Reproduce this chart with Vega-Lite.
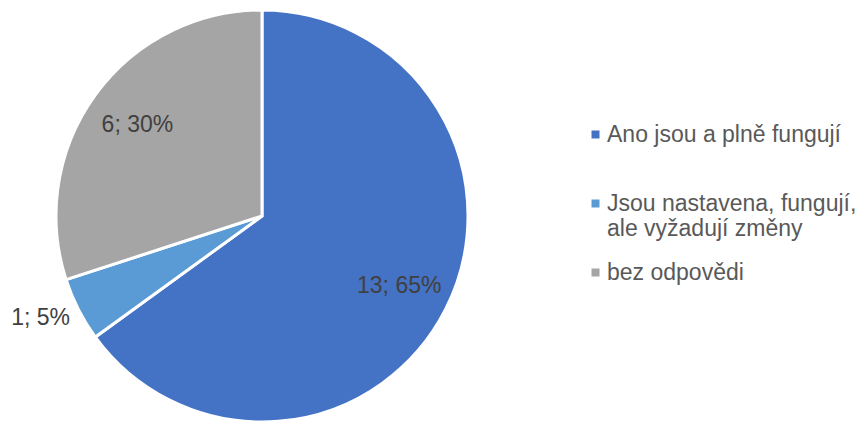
{
  "$schema": "https://vega.github.io/schema/vega-lite/v6.json",
  "width": 524,
  "height": 432,
  "autosize": {"type": "none"},
  "padding": {"left": 0, "top": 0, "right": 344, "bottom": -11},
  "background": "white",
  "config": {
    "view": {"stroke": null},
    "font": "Liberation Sans"
  },
  "data": {
    "values": [
      {"odpoved": "Ano jsou a plně fungují", "pocet": 13, "poradi": 1},
      {"odpoved": "Jsou nastavena, fungují, ale vyžadují změny", "pocet": 1, "poradi": 2},
      {"odpoved": "bez odpovědi", "pocet": 6, "poradi": 3}
    ]
  },
  "transform": [
    {"joinaggregate": [{"op": "sum", "field": "pocet", "as": "celkem"}]},
    {"calculate": "datum.pocet + '; ' + format(datum.pocet / datum.celkem, '.0%')", "as": "popisek"}
  ],
  "encoding": {
    "theta": {"field": "pocet", "type": "quantitative", "stack": true},
    "order": {"field": "poradi", "type": "ordinal", "sort": "ascending"},
    "color": {
      "field": "odpoved",
      "type": "nominal",
      "sort": null,
      "scale": {
        "domain": ["Ano jsou a plně fungují", "Jsou nastavena, fungují, ale vyžadují změny", "bez odpovědi"],
        "range": ["#4472C4", "#5B9BD5", "#A5A5A5"]
      },
      "legend": {
        "title": null,
        "orient": "none",
        "legendX": 584,
        "legendY": 123,
        "symbolType": "square",
        "symbolSize": 64,
        "symbolStrokeWidth": 0,
        "labelFont": "Liberation Sans",
        "labelFontSize": 23,
        "labelColor": "#595959",
        "labelOffset": 0,
        "rowPadding": 20,
        "labelLimit": 320,
        "labelExpr": "datum.value == 'Jsou nastavena, fungují, ale vyžadují změny' ? ['Jsou nastavena, fungují,', 'ale vyžadují změny'] : [datum.value, '']",
        "encode": {"labels": {"update": {"lineHeight": {"value": 26}}}}
      }
    }
  },
  "layer": [
    {
      "mark": {"type": "arc", "outerRadius": 206, "stroke": "white", "strokeWidth": 3}
    },
    {
      "mark": {"type": "text", "radius": 154, "font": "Liberation Sans", "fontSize": 23, "fill": "#404040"},
      "encoding": {
        "text": {"condition": {"test": "datum.pocet > 1", "field": "popisek"}, "value": ""},
        "color": {"value": "#404040"}
      }
    },
    {
      "mark": {"type": "text", "radius": 244, "dx": -4, "dy": -9, "font": "Liberation Sans", "fontSize": 23, "fill": "#404040"},
      "encoding": {
        "text": {"condition": {"test": "datum.pocet <= 1", "field": "popisek"}, "value": ""},
        "color": {"value": "#404040"}
      }
    }
  ]
}
